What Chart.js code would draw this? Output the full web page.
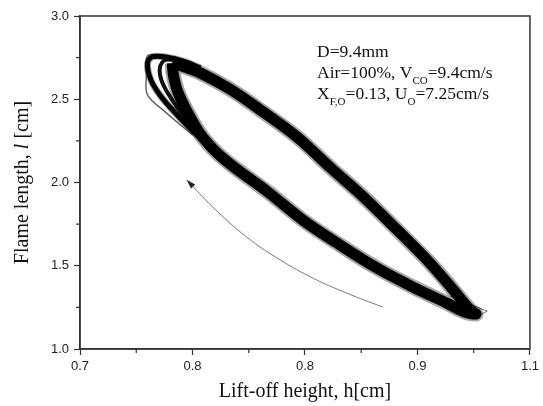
<!DOCTYPE html>
<html>
<head>
<meta charset="utf-8">
<script src="https://cdn.jsdelivr.net/npm/chart.js@4/dist/chart.umd.min.js"></script>
<style>
  html, body { margin: 0; padding: 0; background: #fff; }
  #wrap { width: 543px; height: 406px; }
</style>
</head>
<body>
<div id="wrap"><canvas id="flameChart" width="543" height="406"></canvas></div>
<script>
// axis ticks (labels as printed on the figure)
var xTicks = [0.7, 0.8, 0.9, 1.0, 1.1];
var xTickLabels = ["0.7", "0.8", "0.8", "0.9", "1.1"];
var yTicks = [1.0, 1.5, 2.0, 2.5, 3.0];
var yTickLabels = ["1.0", "1.5", "2.0", "2.5", "3.0"];
var xMinor = [0.75, 0.85, 0.95, 1.05];
var yMinor = [1.25, 1.75, 2.25, 2.75];

// hysteresis loop, lift-off height vs flame length
var loopX = [0.782, 0.793, 0.807, 0.833, 0.863, 0.893, 0.922, 0.952, 0.982, 1.011, 1.032, 1.047, 1.052,
             1.042, 1.026, 0.996, 0.964, 0.931, 0.898, 0.867, 0.829, 0.809, 0.796, 0.787, 0.783, 0.782];
var loopY = [2.718, 2.694, 2.658, 2.562, 2.423, 2.273, 2.093, 1.913, 1.715, 1.517, 1.354, 1.234, 1.210,
             1.222, 1.276, 1.372, 1.486, 1.625, 1.775, 1.943, 2.135, 2.273, 2.417, 2.544, 2.646, 2.718];

// cycles that turn back further left near the top
var cycleAX = [0.820, 0.802, 0.784, 0.771, 0.763, 0.760, 0.764, 0.776, 0.791, 0.807];
var cycleAY = [2.195, 2.297, 2.423, 2.526, 2.616, 2.712, 2.754, 2.754, 2.730, 2.688];
var cycleBX = [0.816, 0.798, 0.782, 0.773, 0.771, 0.776, 0.789, 0.802];
var cycleBY = [2.225, 2.345, 2.495, 2.604, 2.688, 2.736, 2.730, 2.694];
var cycleCX = [0.800, 0.776, 0.760, 0.759, 0.760, 0.771];
var cycleCY = [2.285, 2.423, 2.526, 2.646, 2.760, 2.766];

// stray cycles at the lower right end
var tipX = [1.029, 1.062, 1.054, 1.033];
var tipY = [1.318, 1.228, 1.198, 1.258];

// direction arrow
var arrowX = [0.969, 0.937, 0.907, 0.878, 0.848, 0.818, 0.795];
var arrowY = [1.252, 1.336, 1.426, 1.535, 1.673, 1.853, 2.015];

function pts(xs, ys) {
    return xs.map(function (x, i) { return { x: x, y: ys[i] }; });
}

function line(xs, ys, color, width, tension) {
    return { data: pts(xs, ys), showLine: true, borderColor: color, borderWidth: width, pointRadius: 0, tension: tension };
}

var AXIS = '#333';

var framePlugin = {
    id: 'frame',
    afterDraw: function (chart) {
        var c = chart.ctx, a = chart.chartArea;
        var sx = chart.scales.x, sy = chart.scales.y;
        c.save();
        c.strokeStyle = AXIS;
        c.lineWidth = 1.5;
        c.strokeRect(a.left, a.top, a.right - a.left, a.bottom - a.top);
        // minor ticks
        c.lineWidth = 1.2;
        c.beginPath();
        xMinor.forEach(function (v) {
            var px = sx.getPixelForValue(v);
            c.moveTo(px, a.bottom); c.lineTo(px, a.bottom + 4);
        });
        yMinor.forEach(function (v) {
            var py = sy.getPixelForValue(v);
            c.moveTo(a.left, py); c.lineTo(a.left - 4, py);
        });
        c.stroke();

        // arrow head
        var n = arrowX.length;
        var x1 = sx.getPixelForValue(arrowX[n - 2]), y1 = sy.getPixelForValue(arrowY[n - 2]);
        var x2 = sx.getPixelForValue(arrowX[n - 1]), y2 = sy.getPixelForValue(arrowY[n - 1]);
        var ang = Math.atan2(y2 - y1, x2 - x1);
        c.fillStyle = '#222';
        c.beginPath();
        c.moveTo(x2, y2);
        c.lineTo(x2 - 9 * Math.cos(ang) + 3 * Math.sin(ang), y2 - 9 * Math.sin(ang) - 3 * Math.cos(ang));
        c.lineTo(x2 - 9 * Math.cos(ang) - 3 * Math.sin(ang), y2 - 9 * Math.sin(ang) + 3 * Math.cos(ang));
        c.closePath();
        c.fill();

        // axis titles
        c.fillStyle = '#111';
        c.textBaseline = 'alphabetic';
        c.font = '20px "Liberation Serif"';
        c.textAlign = 'center';
        c.fillText('Lift-off height, h[cm]', (a.left + a.right) / 2, 397);

        c.save();
        c.translate(28, (a.top + a.bottom) / 2);
        c.rotate(-Math.PI / 2);
        var p1 = 'Flame length, ', p2 = 'l', p3 = ' [cm]';
        c.font = '20px "Liberation Serif"';
        var w1 = c.measureText(p1).width, w3 = c.measureText(p3).width;
        c.font = 'italic 20px "Liberation Serif"';
        var w2 = c.measureText(p2).width;
        var sx0 = -(w1 + w2 + w3) / 2;
        c.textAlign = 'left';
        c.font = '20px "Liberation Serif"';
        c.fillText(p1, sx0, 0);
        c.font = 'italic 20px "Liberation Serif"';
        c.fillText(p2, sx0 + w1, 0);
        c.font = '20px "Liberation Serif"';
        c.fillText(p3, sx0 + w1 + w2, 0);
        c.restore();

        // condition note with subscripts
        function run(parts, x, y) {
            parts.forEach(function (p) {
                c.font = p[1] ? '11px "Liberation Serif"' : '17.5px "Liberation Serif"';
                c.fillText(p[0], x, y + (p[1] ? 6 : 0));
                x += c.measureText(p[0]).width;
            });
        }
        c.textAlign = 'left';
        run([['D=9.4mm']], 317, 57);
        run([['Air=100%, V'], ['CO', 1], ['=9.4cm/s']], 317, 78);
        run([['X'], ['F,O', 1], ['=0.13, U'], ['O', 1], ['=7.25cm/s']], 317, 99);
        c.restore();
    }
};

var ctx = document.getElementById('flameChart').getContext('2d');

var chart = new Chart(ctx, {
    type: 'scatter',
    data: {
        datasets: [
            line(loopX, loopY, 'rgba(0,0,0,0.35)', 15, 0.35),
            line(cycleAX, cycleAY, 'rgba(0,0,0,0.35)', 7, 0.35),
            line(loopX, loopY, '#000', 11, 0.35),
            line(cycleAX, cycleAY, '#000', 5, 0.35),
            line(cycleBX, cycleBY, '#111', 4, 0.35),
            line(cycleCX, cycleCY, 'rgba(0,0,0,0.6)', 1.5, 0.35),
            line(tipX, tipY, 'rgba(0,0,0,0.55)', 1, 0),
            line(arrowX, arrowY, '#777', 1, 0.4)
        ]
    },
    options: {
        responsive: false,
        animation: false,
        layout: { padding: { top: 16, right: 13, left: 0, bottom: 0 } },
        plugins: { legend: { display: false }, tooltip: { enabled: false } },
        scales: {
            x: {
                type: 'linear', min: 0.7, max: 1.1,
                afterBuildTicks: function (s) { s.ticks = xTicks.map(function (v) { return { value: v }; }); },
                afterFit: function (s) { s.height = 57; },
                ticks: {
                    padding: 4, color: '#222', maxRotation: 0,
                    font: { family: '"Liberation Sans"', size: 13 },
                    callback: function (v, i) { return xTickLabels[i]; }
                },
                grid: { drawOnChartArea: false, tickLength: 6, tickWidth: 1.2, tickColor: AXIS },
                border: { color: AXIS, width: 1.5 }
            },
            y: {
                type: 'linear', min: 1.0, max: 3.0,
                afterBuildTicks: function (s) { s.ticks = yTicks.map(function (v) { return { value: v }; }); },
                afterFit: function (s) { s.width = 80; },
                ticks: {
                    padding: 5, color: '#222',
                    font: { family: '"Liberation Sans"', size: 13 },
                    callback: function (v, i) { return yTickLabels[i]; }
                },
                grid: { drawOnChartArea: false, tickLength: 6, tickWidth: 1.2, tickColor: AXIS },
                border: { color: AXIS, width: 1.5 }
            }
        }
    },
    plugins: [framePlugin]
});
</script>
</body>
</html>
